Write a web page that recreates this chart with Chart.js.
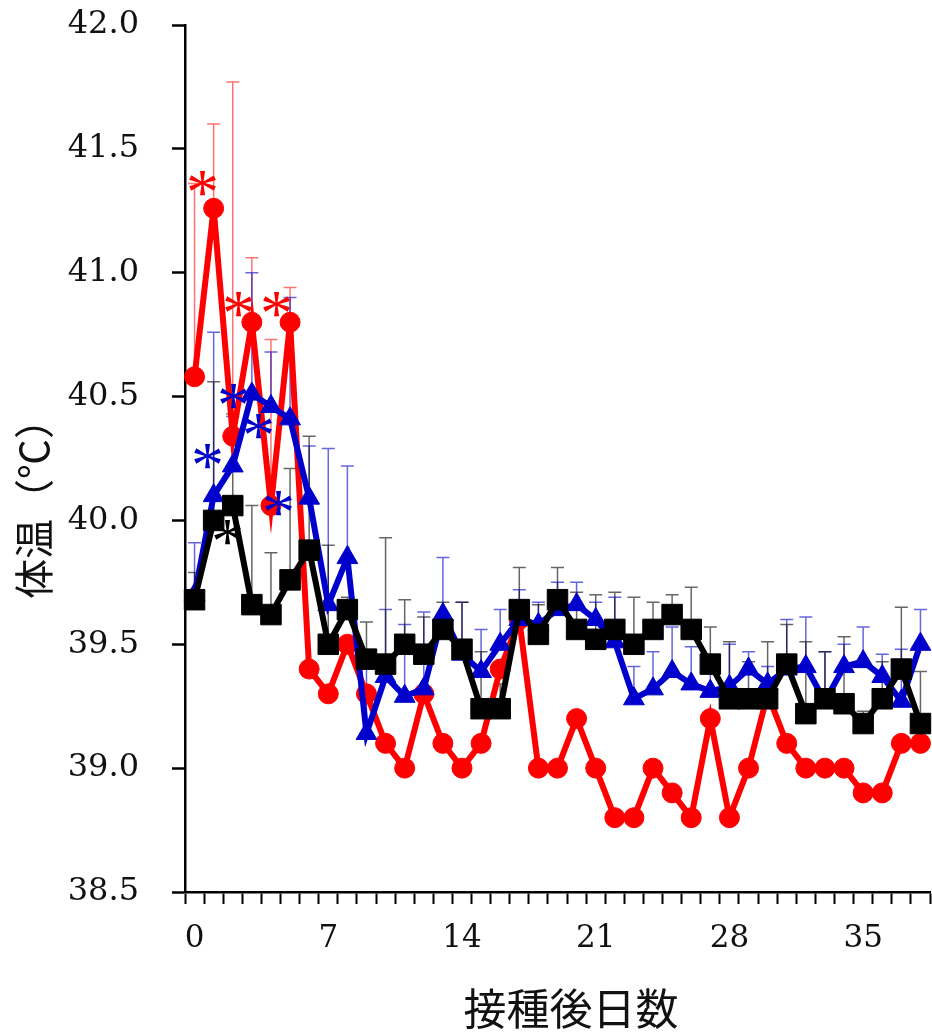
<!DOCTYPE html>
<html>
<head>
<meta charset="utf-8">
<script src="https://cdn.jsdelivr.net/npm/chart.js@4.4.0/dist/chart.umd.min.js"></script>
<style>
  html, body { margin: 0; padding: 0; background: #fff; }
  canvas { display: block; }
</style>
</head>
<body>
<canvas id="myChart" width="932" height="1033"></canvas>
<script>
"use strict";

// days after inoculation
const days = [];
for (let d = 0; d <= 38; d++) days.push(String(d));

const yTicks = [38.5, 39.0, 39.5, 40.0, 40.5, 41.0, 41.5, 42.0];

// mean body temperature (°C)
const redTemp = [40.58, 41.26, 40.34, 40.80, 40.06, 40.80, 39.40, 39.30, 39.50, 39.30,
  39.10, 39.00, 39.30, 39.10, 39.00, 39.10, 39.40, 39.60, 39.00, 39.00,
  39.20, 39.00, 38.80, 38.80, 39.00, 38.90, 38.80, 39.20, 38.80, 39.00,
  39.30, 39.10, 39.00, 39.00, 39.00, 38.90, 38.90, 39.10, 39.10];
const blueTemp = [39.70, 40.10, 40.22, 40.51, 40.46, 40.41, 40.09, 39.66, 39.85, 39.14,
  39.37, 39.29, 39.32, 39.62, 39.46, 39.39, 39.50, 39.60, 39.58, 39.64,
  39.66, 39.60, 39.51, 39.28, 39.32, 39.39, 39.34, 39.31, 39.33, 39.40,
  39.34, 39.40, 39.41, 39.27, 39.41, 39.43, 39.37, 39.27, 39.50];
const blackTemp = [39.68, 40.00, 40.06, 39.66, 39.62, 39.76, 39.88, 39.50, 39.64, 39.44,
  39.42, 39.50, 39.46, 39.56, 39.48, 39.24, 39.24, 39.64, 39.54, 39.68,
  39.56, 39.52, 39.56, 39.50, 39.56, 39.62, 39.56, 39.42, 39.28, 39.28,
  39.28, 39.42, 39.22, 39.28, 39.26, 39.18, 39.28, 39.40, 39.18];

// standard deviation (upper bars only)
const redSD = [0.78, 0.34, 1.43, 0.26, 0.67, 0.14, 0, 0, 0, 0,
  0, 0, 0, 0, 0, 0, 0, 0, 0, 0,
  0, 0, 0, 0, 0, 0, 0, 0, 0, 0,
  0, 0, 0, 0, 0, 0, 0, 0, 0];
const blueSD = [0.21, 0.66, 0.20, 0.49, 0.22, 0.49, 0.21, 0.63, 0.37, 0.30,
  0.27, 0.29, 0.31, 0.23, 0.21, 0.17, 0.14, 0.12, 0.09, 0.11,
  0.09, 0.07, 0.18, 0.13, 0.15, 0.18, 0.15, 0.10, 0.17, 0.07,
  0.07, 0.20, 0.20, 0.20, 0.09, 0.14, 0.09, 0.21, 0.14];
const blackSD = [0.11, 0.56, 0.37, 0.40, 0.25, 0.45, 0.46, 0.40, 0.05, 0.15,
  0.51, 0.18, 0.15, 0.11, 0.19, 0.23, 0.10, 0.17, 0.12, 0.13,
  0.15, 0.18, 0.15, 0.19, 0.11, 0.08, 0.17, 0.15, 0.23, 0.15,
  0.23, 0.16, 0.29, 0.19, 0.27, 0.05, 0.15, 0.25, 0.21];

// significance marks: day position, temperature, series colour
const starDay = [0.42, 2.30, 4.29, 0.68, 2.04, 3.35, 4.39, 1.73];
const starTemp = [41.36, 40.87, 40.87, 40.26, 40.50, 40.38, 40.07, 39.95];
const starColor = ["#ff0000", "#ff0000", "#ff0000", "#0000cc", "#0000cc", "#0000cc", "#0000cc", "#000000"];

const RED = "#ff0000";
const BLUE = "#0000cc";
const BLACK = "#000000";
const SERIF = "'DejaVu Serif', serif";
const CJK = "'Noto Sans CJK JP', sans-serif";

const errorBarPlugin = {
  id: "errorBars",
  beforeDatasetsDraw(chart) {
    const ctx = chart.ctx;
    const yScale = chart.scales.y;
    chart.data.datasets.forEach(function (ds, i) {
      const meta = chart.getDatasetMeta(i);
      ctx.save();
      ctx.strokeStyle = ds.errColor;
      ctx.lineWidth = 1.5;
      for (let j = 0; j < ds.data.length; j++) {
        const sd = ds.sd[j];
        if (!sd) continue;
        const pt = meta.data[j];
        const top = yScale.getPixelForValue(ds.data[j] + sd);
        ctx.beginPath();
        ctx.moveTo(pt.x, pt.y);
        ctx.lineTo(pt.x, top);
        ctx.moveTo(pt.x - 6.5, top);
        ctx.lineTo(pt.x + 6.5, top);
        ctx.stroke();
      }
      ctx.restore();
    });
  },
};

const starPlugin = {
  id: "stars",
  afterDatasetsDraw(chart) {
    const ctx = chart.ctx;
    const xScale = chart.scales.x;
    const yScale = chart.scales.y;
    ctx.save();
    ctx.font = "66px 'Liberation Serif', serif";
    ctx.textAlign = "center";
    ctx.textBaseline = "alphabetic";
    const m = ctx.measureText("*");
    const mid = (m.actualBoundingBoxAscent - m.actualBoundingBoxDescent) / 2;
    for (let i = 0; i < starDay.length; i++) {
      const x = xScale.getPixelForValue(starDay[i]);
      const y = yScale.getPixelForValue(starTemp[i]);
      ctx.fillStyle = starColor[i];
      ctx.fillText("*", x, y + mid);
    }
    ctx.restore();
  },
};

const titlePlugin = {
  id: "axisTitles",
  afterDraw(chart) {
    const ctx = chart.ctx;
    ctx.save();
    ctx.fillStyle = "#111";
    ctx.font = "43px " + CJK;
    ctx.textAlign = "center";
    ctx.textBaseline = "middle";
    ctx.fillText("接種後日数", 571, 1009);
    ctx.translate(34, 599);
    ctx.rotate(-Math.PI / 2);
    ctx.font = "40px " + CJK;
    ctx.textAlign = "left";
    ctx.fillText("体温（℃）", 0, 0);
    ctx.restore();
  },
};

function makeSet(label, data, sd, color, errColor, style, radius, order) {
  return {
    label: label,
    data: data,
    sd: sd,
    errColor: errColor,
    borderColor: color,
    backgroundColor: color,
    borderWidth: 6,
    tension: 0,
    pointStyle: style,
    pointRadius: radius,
    pointBackgroundColor: color,
    pointBorderColor: color,
    pointBorderWidth: 1,
    clip: false,
    order: order,
  };
}

const config = {
  type: "line",
  data: {
    labels: days,
    datasets: [
      makeSet("red", redTemp, redSD, RED, "rgba(255,0,0,0.55)", "circle", 10, 3),
      makeSet("blue", blueTemp, blueSD, BLUE, "rgba(0,0,204,0.6)", "triangle", 12, 2),
      makeSet("black", blackTemp, blackSD, BLACK, "rgba(0,0,0,0.6)", "rect", 14.5, 1),
    ],
  },
  options: {
    responsive: false,
    animation: false,
    layout: { autoPadding: false, padding: { top: 25, right: 2, left: 0, bottom: 0 } },
    plugins: {
      legend: { display: false },
      tooltip: { enabled: false },
    },
    scales: {
      x: {
        type: "category",
        offset: true,
        grid: {
          offset: true,
          drawOnChartArea: false,
          drawTicks: true,
          tickLength: 12,
          tickWidth: 2,
          tickColor: BLACK,
        },
        border: { display: true, color: BLACK, width: 2.5 },
        ticks: {
          autoSkip: false,
          maxRotation: 0,
          padding: 16,
          color: "#111",
          font: { family: SERIF, size: 31 },
          callback: function (value, index) {
            return index % 7 === 0 ? days[index] : "";
          },
        },
        afterFit: function (scale) {
          scale.height = 141;
          scale.paddingLeft = 0;
          scale.paddingRight = 0;
        },
      },
      y: {
        min: yTicks[0],
        max: yTicks[yTicks.length - 1],
        afterBuildTicks: function (scale) {
          scale.ticks = yTicks.map(function (v) { return { value: v }; });
        },
        grid: {
          drawOnChartArea: false,
          drawTicks: true,
          tickLength: 13,
          tickWidth: 2.5,
          tickColor: BLACK,
        },
        border: { display: true, color: BLACK, width: 2.5 },
        ticks: {
          padding: 33,
          color: "#111",
          font: { family: SERIF, size: 32 },
          callback: function (value) { return Number(value).toFixed(1); },
        },
        afterFit: function (scale) {
          scale.width = 185;
          scale.paddingTop = 0;
          scale.paddingBottom = 0;
        },
      },
    },
  },
  plugins: [errorBarPlugin, starPlugin, titlePlugin],
};

const canvasChart = document.getElementById("myChart");
new Chart(canvasChart, config);
</script>
</body>
</html>
